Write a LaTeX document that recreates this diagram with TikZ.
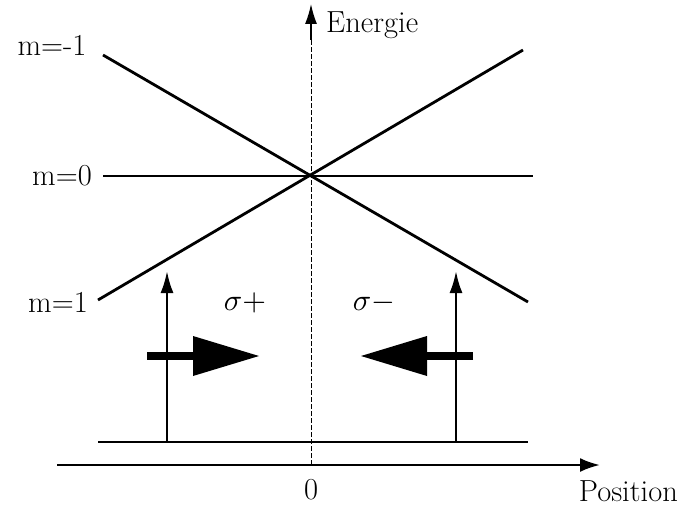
\documentclass[tikz,border=0pt]{standalone}
\usetikzlibrary{arrows.meta}
\begin{document}
\begin{tikzpicture}[x=1pt,y=-1pt,
  lvl/.style={line width=2.8pt},
  lbl/.style={font=\fontsize{30.5}{36}\selectfont, inner sep=0pt},
  mlbl/.style={scale=3.05, inner sep=0pt},
  thin arrow/.style={line width=2.5pt,-{Latex[length=22pt,width=13pt]}},
  axis/.style={line width=2.5pt,-{Latex[length=20pt,width=14pt]}},
  beam/.style={line width=8pt},
  beamhead/.style={fill=black}]
\useasboundingbox (0,0) rectangle (684,508);
% axes
\coordinate (xa) at (57,465); \coordinate (xb) at (600,465);
\draw[axis] (xa) -- (xb);
\coordinate (ya) at (311,465); \coordinate (yb) at (311,4);
\draw[line width=1pt,dash pattern=on 5pt off 2pt] (ya) -- (311,26);
\draw[line width=1.4pt,-{Latex[length=20pt,width=12pt]}] (311,40) -- (yb);
\node[lbl,anchor=west] (en) at (326,25) {Energie};
\node[lbl] (zero) at (311,490) {0};
\node[lbl,anchor=east] (pos) at (678,491) {Position};
% levels
\coordinate (c) at (311,176);
\coordinate (m1a) at (103,55);  \coordinate (m1b) at (528,302);
\coordinate (p1a) at (98,300);  \coordinate (p1b) at (523,50);
\coordinate (z0a) at (103,176); \coordinate (z0b) at (533,176);
\draw[lvl] (m1a) -- (m1b);
\draw[lvl] (p1a) -- (p1b);
\draw[lvl] (z0a) -- (z0b);
\node[lbl] (lm1) at (52,45) {m=-1};
\node[lbl] (l0) at (62,176) {m=0};
\node[lbl] (l1) at (58,302) {m=1};
% ground line
\coordinate (ga) at (98,442); \coordinate (gb) at (528,442);
\draw[lvl] (ga) -- (gb);
% vertical arrows
\coordinate (va1) at (167,442); \coordinate (vb1) at (167,271);
\coordinate (va2) at (456,442); \coordinate (vb2) at (456,271);
\draw[thin arrow] (va1) -- (vb1);
\draw[thin arrow] (va2) -- (vb2);
% sigma labels
\node[mlbl] (sp) at (245,303) {$\sigma+$};
\node[mlbl] (sm) at (374,303) {$\sigma-$};
% thick beams
\coordinate (b1s) at (147,356); \coordinate (b1h) at (193,356); \coordinate (b1t) at (259,356);
\draw[beam] (b1s) -- (b1h);
\fill[beamhead] (193,336) -- (b1t) -- (193,376) -- cycle;
\coordinate (b2s) at (473,356); \coordinate (b2h) at (427,356); \coordinate (b2t) at (361,356);
\draw[beam] (b2s) -- (b2h);
\fill[beamhead] (427,336) -- (b2t) -- (427,376) -- cycle;
\end{tikzpicture}
\end{document}
